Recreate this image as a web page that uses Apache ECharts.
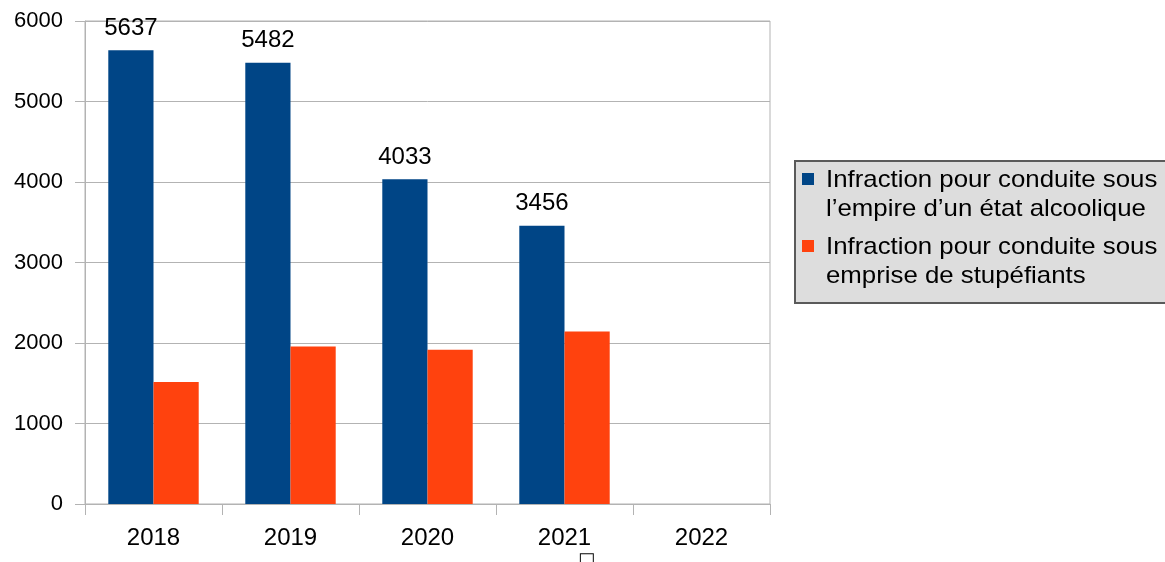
<!DOCTYPE html>
<html><head><meta charset="utf-8">
<script src="https://cdn.jsdelivr.net/npm/echarts@6/dist/echarts.min.js"></script>
<style>html,body{margin:0;padding:0;background:#fff}#c{width:1165px;height:562px}</style>
</head><body><div id="c"></div>
<script>
const categories = ['2018', '2019', '2020', '2021', '2022'];
const alcoholValues = [5637, 5482, 4033, 3456, null];
const drugValues = [1515, 1955, 1917, 2144, null];
const yTicks = [0, 1000, 2000, 3000, 4000, 5000, 6000];
const seriesNames = ['Infraction pour conduite sous l\u2019empire d\u2019un \u00e9tat alcoolique', 'Infraction pour conduite sous emprise de stup\u00e9fiants'];
const legendLines = [['Infraction pour conduite sous', 'l\u2019empire d\u2019un \u00e9tat alcoolique'], ['Infraction pour conduite sous', 'emprise de stup\u00e9fiants']];
const colors = ['#004586', '#ff420e'];

const FONT = '"Liberation Sans", Arial, sans-serif';
const chart = echarts.init(document.getElementById('c'), null, {renderer: 'canvas'});

const legendGraphics = [
  {type: 'rect', left: 794, top: 160, shape: {width: 376, height: 142}, style: {fill: '#dddddd', stroke: '#5a5a5a', lineWidth: 2}, z: 10}
];
legendLines.forEach((lines, i) => {
  const top = 173 + i * 67;
  legendGraphics.push({type: 'rect', left: 802, top: top, shape: {width: 12, height: 12}, style: {fill: colors[i]}, z: 11});
  legendGraphics.push({type: 'text', left: 826, top: top - 7, scaleX: 1.075, style: {text: lines.join('\n'), font: '24px ' + FONT, fill: '#000', lineHeight: 29}, z: 11});
});
legendGraphics.push({type: 'text', left: 578, top: 551, style: {text: '\u25a1', font: '18px "DejaVu Sans"', fill: '#000'}});

chart.setOption({
  animation: false,
  textStyle: {fontFamily: FONT},
  grid: {left: 85, right: 395, top: 21, bottom: 58, show: true, borderColor: '#b3b3b3', borderWidth: 1},
  xAxis: {
    type: 'category', data: categories, boundaryGap: true,
    axisLine: {lineStyle: {color: '#b3b3b3', width: 1}},
    axisTick: {show: true, length: 11, interval: 0, lineStyle: {color: '#b3b3b3'}},
    axisLabel: {color: '#000', fontSize: 24, margin: 22, fontFamily: FONT, interval: 0}
  },
  yAxis: {
    type: 'value', min: yTicks[0], max: yTicks[yTicks.length - 1], interval: 1000,
    axisLine: {show: true, lineStyle: {color: '#b3b3b3'}},
    axisTick: {show: true, length: 10, lineStyle: {color: '#b3b3b3'}},
    splitLine: {lineStyle: {color: '#b3b3b3', width: 1}},
    axisLabel: {color: '#000', fontSize: 22, margin: 22, fontFamily: FONT, formatter: v => String(v)}
  },
  series: [
    {name: seriesNames[0], type: 'bar', data: alcoholValues, itemStyle: {color: colors[0]},
     barGap: '0%', barCategoryGap: '34%',
     label: {show: true, position: 'top', distance: 10, color: '#000', fontSize: 24, fontFamily: FONT}},
    {name: seriesNames[1], type: 'bar', data: drugValues, itemStyle: {color: colors[1]},
     barGap: '0%', barCategoryGap: '34%'}
  ],
  graphic: legendGraphics
});
</script></body></html>
